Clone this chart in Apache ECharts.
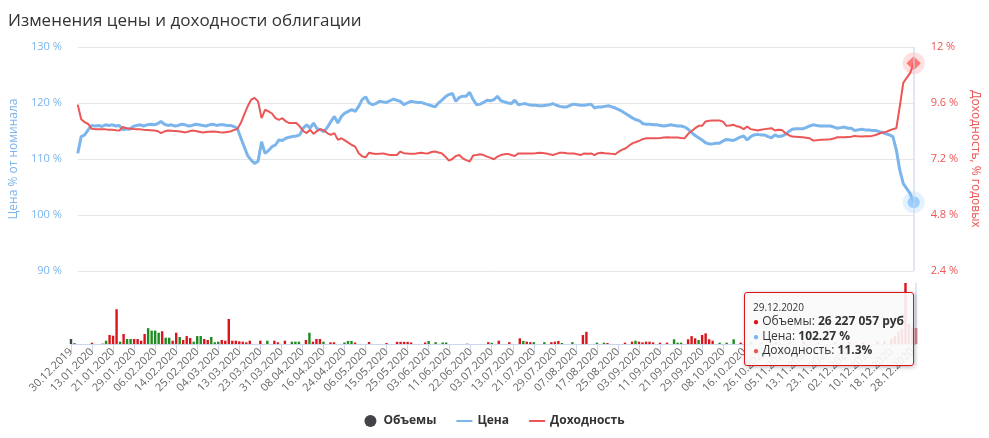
<!DOCTYPE html>
<html><head><meta charset="utf-8">
<script src="https://cdn.jsdelivr.net/npm/echarts@6/dist/echarts.min.js"></script>
<style>html,body{margin:0;padding:0;background:#fff}#c{width:989px;height:438px}</style>
</head><body><div id="c"></div>
<script>
const dates = [
'30.12.2019','03.01.2020','06.01.2020','08.01.2020','09.01.2020','10.01.2020',
'13.01.2020','14.01.2020','15.01.2020','16.01.2020','17.01.2020','20.01.2020',
'21.01.2020','22.01.2020','23.01.2020','24.01.2020','27.01.2020','28.01.2020',
'29.01.2020','30.01.2020','31.01.2020','03.02.2020','04.02.2020','05.02.2020',
'06.02.2020','07.02.2020','10.02.2020','11.02.2020','12.02.2020','13.02.2020',
'14.02.2020','17.02.2020','18.02.2020','19.02.2020','20.02.2020','21.02.2020',
'25.02.2020','26.02.2020','27.02.2020','28.02.2020','02.03.2020','03.03.2020',
'04.03.2020','05.03.2020','06.03.2020','10.03.2020','11.03.2020','12.03.2020',
'13.03.2020','16.03.2020','17.03.2020','18.03.2020','19.03.2020','20.03.2020',
'23.03.2020','24.03.2020','25.03.2020','26.03.2020','27.03.2020','30.03.2020',
'31.03.2020','01.04.2020','02.04.2020','03.04.2020','06.04.2020','07.04.2020',
'08.04.2020','09.04.2020','10.04.2020','13.04.2020','14.04.2020','15.04.2020',
'16.04.2020','17.04.2020','20.04.2020','21.04.2020','22.04.2020','23.04.2020',
'24.04.2020','27.04.2020','28.04.2020','29.04.2020','30.04.2020','05.05.2020',
'06.05.2020','07.05.2020','08.05.2020','12.05.2020','13.05.2020','14.05.2020',
'15.05.2020','18.05.2020','19.05.2020','20.05.2020','21.05.2020','22.05.2020',
'25.05.2020','26.05.2020','27.05.2020','28.05.2020','29.05.2020','02.06.2020',
'03.06.2020','04.06.2020','05.06.2020','08.06.2020','09.06.2020','10.06.2020',
'11.06.2020','15.06.2020','16.06.2020','17.06.2020','18.06.2020','19.06.2020',
'22.06.2020','23.06.2020','25.06.2020','26.06.2020','29.06.2020','30.06.2020',
'03.07.2020','06.07.2020','07.07.2020','08.07.2020','09.07.2020','10.07.2020',
'13.07.2020','14.07.2020','15.07.2020','16.07.2020','17.07.2020','20.07.2020',
'21.07.2020','22.07.2020','23.07.2020','24.07.2020','27.07.2020','28.07.2020',
'29.07.2020','30.07.2020','31.07.2020','03.08.2020','05.08.2020','06.08.2020',
'07.08.2020','10.08.2020','11.08.2020','12.08.2020','13.08.2020','14.08.2020',
'17.08.2020','18.08.2020','19.08.2020','20.08.2020','21.08.2020','24.08.2020',
'25.08.2020','26.08.2020','27.08.2020','28.08.2020','31.08.2020','02.09.2020',
'03.09.2020','04.09.2020','07.09.2020','08.09.2020','09.09.2020','10.09.2020',
'11.09.2020','14.09.2020','15.09.2020','16.09.2020','17.09.2020','18.09.2020',
'21.09.2020','22.09.2020','23.09.2020','24.09.2020','25.09.2020','28.09.2020',
'29.09.2020','30.09.2020','01.10.2020','02.10.2020','05.10.2020','07.10.2020',
'08.10.2020','09.10.2020','12.10.2020','13.10.2020','14.10.2020','15.10.2020',
'16.10.2020','19.10.2020','20.10.2020','21.10.2020','22.10.2020','23.10.2020',
'26.10.2020','27.10.2020','28.10.2020','29.10.2020','30.10.2020','03.11.2020',
'05.11.2020','06.11.2020','09.11.2020','10.11.2020','11.11.2020','12.11.2020',
'13.11.2020','16.11.2020','17.11.2020','18.11.2020','19.11.2020','20.11.2020',
'23.11.2020','24.11.2020','25.11.2020','26.11.2020','27.11.2020','01.12.2020',
'02.12.2020','03.12.2020','04.12.2020','07.12.2020','08.12.2020','09.12.2020',
'10.12.2020','11.12.2020','14.12.2020','15.12.2020','16.12.2020','17.12.2020',
'18.12.2020','21.12.2020','22.12.2020','23.12.2020','24.12.2020','25.12.2020',
'28.12.2020','29.12.2020'
];

// Цена, % от номинала
const price = [
111.0,114.0,114.3,115.2,116.0,115.9,116.0,115.8,116.1,116.0,
116.1,115.9,116.0,115.2,115.4,115.3,115.8,116.0,116.1,115.9,
116.1,116.2,116.1,116.3,116.7,116.2,116.0,116.1,115.9,116.0,
116.2,116.1,115.9,116.0,116.2,116.1,116.0,115.9,116.1,116.2,
116.0,116.1,116.1,116.0,116.0,115.8,115.5,113.8,112.2,110.6,
109.8,109.2,109.6,113.1,111.0,111.5,112.2,112.5,113.4,113.3,
113.7,113.9,114.0,114.1,114.3,115.5,116.1,115.5,116.4,115.4,
115.2,114.9,115.7,116.7,117.6,116.4,117.6,118.2,118.5,118.8,
118.5,119.4,120.6,121.1,120.0,119.7,119.9,120.3,120.2,120.1,
120.4,120.7,120.5,120.3,119.7,120.0,120.3,120.2,120.1,120.1,
119.9,119.7,119.5,119.3,120.0,120.5,121.1,121.5,121.7,120.3,
121.0,121.2,121.2,121.9,120.6,119.7,119.8,120.1,120.5,120.4,
120.6,121.2,120.4,120.2,120.0,119.9,120.5,119.7,119.8,119.9,
119.7,119.6,119.6,119.5,119.5,119.6,119.7,119.9,119.6,119.4,
119.3,119.3,119.6,119.8,119.7,119.6,119.6,119.7,119.8,119.1,
119.3,119.3,119.4,119.5,119.3,119.1,118.8,118.5,118.1,117.7,
117.3,117.0,116.8,116.3,116.2,116.2,116.1,116.1,116.0,115.9,
116.0,116.1,116.0,115.9,115.9,115.7,115.3,114.7,114.2,113.8,
113.4,112.9,112.7,112.7,112.8,112.8,113.2,113.5,113.4,113.3,
113.6,113.9,114.1,113.4,114.0,114.3,114.4,114.3,114.3,114.0,
113.8,114.3,114.0,114.1,114.4,114.9,115.3,115.4,115.4,115.4,
115.6,115.9,116.1,116.0,115.9,115.9,115.9,115.9,115.7,115.5,
115.6,115.7,115.5,115.5,115.1,115.2,115.3,115.2,115.2,115.1,
115.1,114.9,114.7,114.5,114.3,114.0,111.6,108.0,105.6,104.7,
103.8,102.27
];

// Доходность, % годовых
const yieldPct = [
9.53,8.90,8.78,8.70,8.50,8.48,8.48,8.47,8.47,8.45,
8.45,8.43,8.42,8.57,8.52,8.51,8.49,8.48,8.47,8.45,
8.44,8.43,8.42,8.40,8.31,8.38,8.42,8.41,8.40,8.39,
8.37,8.34,8.38,8.42,8.40,8.37,8.34,8.36,8.37,8.38,
8.37,8.35,8.34,8.36,8.38,8.44,8.48,8.74,9.10,9.46,
9.74,9.82,9.67,8.95,9.31,9.24,9.15,8.95,8.88,8.95,
8.81,8.74,8.74,8.74,8.60,8.40,8.31,8.45,8.28,8.40,
8.48,8.42,8.30,8.23,8.31,8.02,8.09,8.00,7.90,7.80,
7.73,7.45,7.32,7.27,7.47,7.44,7.41,7.43,7.44,7.40,
7.37,7.37,7.37,7.52,7.45,7.44,7.42,7.42,7.45,7.47,
7.45,7.44,7.50,7.52,7.48,7.44,7.30,7.13,7.20,7.33,
7.37,7.23,7.15,7.09,7.35,7.37,7.40,7.37,7.30,7.25,
7.19,7.30,7.37,7.40,7.42,7.37,7.33,7.44,7.44,7.44,
7.44,7.44,7.45,7.47,7.46,7.44,7.40,7.37,7.42,7.47,
7.47,7.45,7.44,7.44,7.40,7.37,7.44,7.43,7.44,7.37,
7.45,7.47,7.45,7.44,7.42,7.40,7.52,7.60,7.66,7.78,
7.88,7.93,7.99,8.06,8.09,8.09,8.09,8.09,8.10,8.12,
8.13,8.12,8.12,8.12,8.10,8.09,8.28,8.40,8.52,8.62,
8.62,8.81,8.84,8.85,8.85,8.85,8.80,8.62,8.64,8.67,
8.60,8.57,8.48,8.59,8.48,8.45,8.42,8.45,8.48,8.50,
8.52,8.42,8.45,8.44,8.31,8.22,8.16,8.15,8.14,8.13,
8.11,8.09,7.99,8.00,8.02,8.03,8.04,8.05,8.08,8.13,
8.13,8.13,8.14,8.15,8.19,8.17,8.16,8.17,8.18,8.19,
8.23,8.28,8.34,8.36,8.42,8.48,8.52,9.46,10.46,10.68,
10.89,11.3
];

// Объемы, млн руб
const volumeMln = [
8.2,1.5,0,0,0,0,2.1,0,0,0.6,
5.4,14.8,13.6,57,3.8,16.4,8.2,8.2,8.2,8.2,
5.4,16.4,26,22,22,18.5,21,10.3,10.3,5.4,
18.5,11.5,6.6,13,9.8,3.8,13,13,8.2,6.6,
11.5,2.8,3.8,6.6,5.4,41,5.4,5.4,4.4,3.8,
2.8,5.4,0,0,5.4,0,5.4,0,5.4,2.8,
0,5.4,0,3.8,3.8,3.8,0,6.6,18.5,3.8,
8.2,8.2,3.8,0,2.8,2.8,0,0,2.4,4.9,
4.9,2.4,0,0,0,3.3,0,0,0,0,
1.6,0,0,3.5,3.5,3.5,3.5,2.5,0,0,
0,2.5,4.9,0,3,0,2.5,2.5,0,0,
0,0,0,0.5,0,0,0,0,0,3,
2,0,5.4,0,0,3,0,0,9.3,4.9,
3.8,3,3,0,0,3,0,3,3.8,4.9,
1.6,0,0,3,0,0,14.8,20,0,0,
2.2,0,2.2,1.6,0,0,0,0,2.2,0,
3.8,5.4,3.8,2.7,3.8,3.8,2.7,0,2.2,0,
2.2,0,7.7,2.2,2.2,0,7.7,13,9.3,6.6,
14.8,17.5,7.7,5.4,0,2.2,0,2.2,0,7.7,
0,2.2,0,0,3,0,0,2,0,0,
0,3,0,0,0,2,0,0,0,4,
0,0,0,2,0,0,0,0,3,0,
0,0,3,0,0,0,2,0,0,0,
4,0,5,0,8,13,20,25,100,33,
28,26.227057
];

// направление: 1 — рост, -1 — снижение, 0 — без изменения
const volumeDir = [
0,1,0,0,0,0,-1,0,0,0,
1,-1,-1,-1,1,-1,1,1,-1,-1,
-1,-1,1,1,1,1,-1,1,1,-1,
-1,1,-1,-1,-1,1,1,1,-1,-1,
1,1,1,-1,-1,-1,-1,-1,-1,-1,
-1,-1,0,0,-1,0,1,0,-1,-1,
0,-1,0,1,1,1,0,-1,1,-1,
-1,-1,1,0,-1,-1,0,0,1,1,
1,-1,0,0,0,-1,0,0,0,0,
-1,0,0,-1,-1,-1,-1,-1,0,0,
0,-1,1,0,1,0,1,1,0,0,
0,0,0,0,0,0,0,0,0,-1,
1,0,-1,0,0,-1,0,0,-1,1,
-1,-1,1,0,0,1,0,-1,-1,-1,
1,0,0,1,0,0,-1,-1,0,0,
1,0,1,-1,0,0,0,0,-1,0,
-1,1,-1,-1,-1,-1,-1,0,-1,0,
-1,0,1,1,1,0,-1,-1,-1,1,
-1,-1,-1,-1,0,1,0,1,0,1,
0,-1,0,0,1,0,0,-1,0,0,
0,-1,0,0,0,1,0,0,0,-1,
0,0,0,-1,0,0,0,0,1,0,
0,0,-1,0,0,0,-1,0,0,0,
-1,0,-1,0,-1,-1,-1,-1,-1,-1,
-1,-1
];

const priceTicks = [90, 100, 110, 120, 130];
const yieldTicks = [2.4, 4.8, 7.2, 9.6, 12];

const C_PRICE = '#7cb5ec', C_YIELD = '#ec5656', C_UP = '#1f8a1f', C_DOWN = '#d9141b', C_NEUTRAL = '#434348';
const FONT = '"Open Sans", sans-serif';
const LINE_ICON = 'path://M0,0 L16,0 L16,2 L0,2 Z';
const last = dates.length - 1;

const volData = volumeMln.map((v, i) => ({
  value: v,
  itemStyle: { color: volumeDir[i] > 0 ? C_UP : (volumeDir[i] < 0 ? C_DOWN : C_NEUTRAL) }
}));

function fmtThousands(n) {
  return String(Math.round(n)).replace(/\B(?=(\d{3})+(?!\d))/g, ' ');
}

const chart = echarts.init(document.getElementById('c'), null, { renderer: 'canvas' });
chart.setOption({
  animation: false,
  textStyle: { fontFamily: FONT },
  title: {
    text: 'Изменения цены и доходности облигации',
    left: 3, top: 8,
    textStyle: { fontSize: 17, fontWeight: 'normal', color: '#333', fontFamily: FONT }
  },
  legend: {
    bottom: 6, left: 'center',
    itemWidth: 16, itemHeight: 12, itemGap: 20, symbolKeepAspect: true,
    textStyle: { fontSize: 12, fontWeight: 'bold', color: '#333', fontFamily: FONT },
    data: [
      { name: 'Объемы', icon: 'circle', itemStyle: { color: C_NEUTRAL } },
      { name: 'Цена', icon: LINE_ICON, itemStyle: { color: C_PRICE } },
      { name: 'Доходность', icon: LINE_ICON, itemStyle: { color: C_YIELD } }
    ]
  },
  grid: [
    { left: 71, right: 73, top: 47, height: 224 },
    { left: 71, right: 73, top: 283, height: 61 }
  ],
  axisPointer: {
    link: [{ xAxisIndex: 'all' }],
    lineStyle: { color: 'rgba(204,214,235,0.6)', width: 2, type: 'solid' },
    label: { show: false }
  },
  tooltip: {
    trigger: 'axis',
    alwaysShowContent: true,
    transitionDuration: 0,
    backgroundColor: 'rgba(250,250,250,0.9)',
    borderColor: C_DOWN,
    borderWidth: 1,
    padding: [7, 9, 7, 8],
    extraCssText: 'box-shadow:1px 1px 4px rgba(0,0,0,0.3);border-radius:3px;',
    textStyle: { fontFamily: FONT, fontSize: 12, color: '#333' },
    axisPointer: { type: 'line', lineStyle: { color: 'rgba(204,214,235,0.6)', width: 2, type: 'solid' } },
    position: function () { return [744, 292]; },
    formatter: function (params) {
      const i = params[0].dataIndex;
      const dot = c => '<span style="color:' + c + ';font-size:10px">\u25CF</span> ';
      const vc = volumeDir[i] > 0 ? C_UP : (volumeDir[i] < 0 ? C_DOWN : C_NEUTRAL);
      return '<div style="font-size:10px;line-height:14px">' + dates[i] + '</div>' +
        '<div style="line-height:14.5px">' + dot(vc) + 'Объемы: <b>' + fmtThousands(volumeMln[i] * 1e6) + ' руб</b></div>' +
        '<div style="line-height:14.5px">' + dot(C_PRICE) + 'Цена: <b>' + price[i] + ' %</b></div>' +
        '<div style="line-height:14.5px">' + dot(C_YIELD) + 'Доходность: <b>' + yieldPct[i] + '%</b></div>';
    }
  },
  xAxis: [
    {
      type: 'category', gridIndex: 0, data: dates, boundaryGap: false,
      axisLine: { show: false }, axisTick: { show: false }, axisLabel: { show: false },
      axisPointer: { show: true, type: 'line', lineStyle: { color: 'rgba(204,214,235,0.6)', width: 2, type: 'solid' } }
    },
    {
      type: 'category', gridIndex: 1, data: dates, boundaryGap: false,
      axisLine: { show: true, lineStyle: { color: '#ccd6eb' } },
      axisTick: { show: true, interval: 5, length: 8, lineStyle: { color: '#ccd6eb' } },
      axisLabel: { interval: 5, rotate: 45, fontSize: 11, color: '#666', margin: 6, fontFamily: FONT },
      axisPointer: { show: true, type: 'line', lineStyle: { color: 'rgba(204,214,235,0.6)', width: 2, type: 'solid' } }
    }
  ],
  yAxis: [
    {
      type: 'value', gridIndex: 0, position: 'left',
      min: priceTicks[0], max: priceTicks[priceTicks.length - 1], interval: 10,
      name: 'Цена % от номинала', nameLocation: 'middle', nameGap: 52, nameRotate: 90,
      nameTextStyle: { color: C_PRICE, fontSize: 12, fontFamily: FONT },
      axisLine: { show: false }, axisTick: { show: false },
      axisLabel: { color: C_PRICE, fontSize: 11, margin: 16, formatter: v => v + ' %', fontFamily: FONT },
      splitLine: { lineStyle: { color: '#e6e6e6' } }
    },
    {
      type: 'value', gridIndex: 0, position: 'right',
      min: yieldTicks[0], max: yieldTicks[yieldTicks.length - 1], interval: 2.4,
      name: 'Доходность, % годовых', nameLocation: 'middle', nameGap: 42, nameRotate: -90,
      nameTextStyle: { color: C_YIELD, fontSize: 12, fontFamily: FONT },
      axisLine: { show: false }, axisTick: { show: false },
      axisLabel: { color: C_YIELD, fontSize: 11, margin: 17, formatter: v => (+v.toFixed(1)) + ' %', fontFamily: FONT },
      splitLine: { show: false }
    },
    {
      type: 'value', gridIndex: 1, min: 0, max: 100, show: false, splitLine: { show: false }
    }
  ],
  series: [
    {
      name: 'Объемы', type: 'bar', xAxisIndex: 1, yAxisIndex: 2,
      data: volData, barWidth: 2.4, clip: false,
      itemStyle: { color: C_NEUTRAL }, emphasis: { disabled: true }
    },
    {
      name: 'Цена', type: 'line', xAxisIndex: 0, yAxisIndex: 0,
      data: price, symbol: 'none', z: 3,
      lineStyle: { color: C_PRICE, width: 3 }, itemStyle: { color: C_PRICE },
      emphasis: { disabled: true }
    },
    {
      name: 'Доходность', type: 'line', xAxisIndex: 0, yAxisIndex: 1,
      data: yieldPct, symbol: 'none', z: 4,
      lineStyle: { color: C_YIELD, width: 2 }, itemStyle: { color: C_YIELD },
      emphasis: { disabled: true }
    },
    {
      name: 'halo-price', type: 'scatter', xAxisIndex: 0, yAxisIndex: 0, silent: true, z: 5,
      data: [[last, price[last]]], symbol: 'circle', symbolSize: 20,
      itemStyle: { color: 'rgba(124,181,236,0.28)' }
    },
    {
      name: 'marker-price', type: 'scatter', xAxisIndex: 0, yAxisIndex: 0, silent: true, z: 6,
      data: [[last, price[last]]], symbol: 'circle', symbolSize: 11,
      itemStyle: { color: C_PRICE }
    },
    {
      name: 'halo-yield', type: 'scatter', xAxisIndex: 0, yAxisIndex: 1, silent: true, z: 5,
      data: [[last, yieldPct[last]]], symbol: 'circle', symbolSize: 20,
      itemStyle: { color: 'rgba(236,86,86,0.25)' }
    },
    {
      name: 'marker-yield', type: 'scatter', xAxisIndex: 0, yAxisIndex: 1, silent: true, z: 6,
      data: [[last, yieldPct[last]]], symbol: 'diamond', symbolSize: 13,
      itemStyle: { color: C_YIELD }
    }
  ]
});
chart.dispatchAction({ type: 'showTip', seriesIndex: 1, dataIndex: last });
</script>
</body></html>
